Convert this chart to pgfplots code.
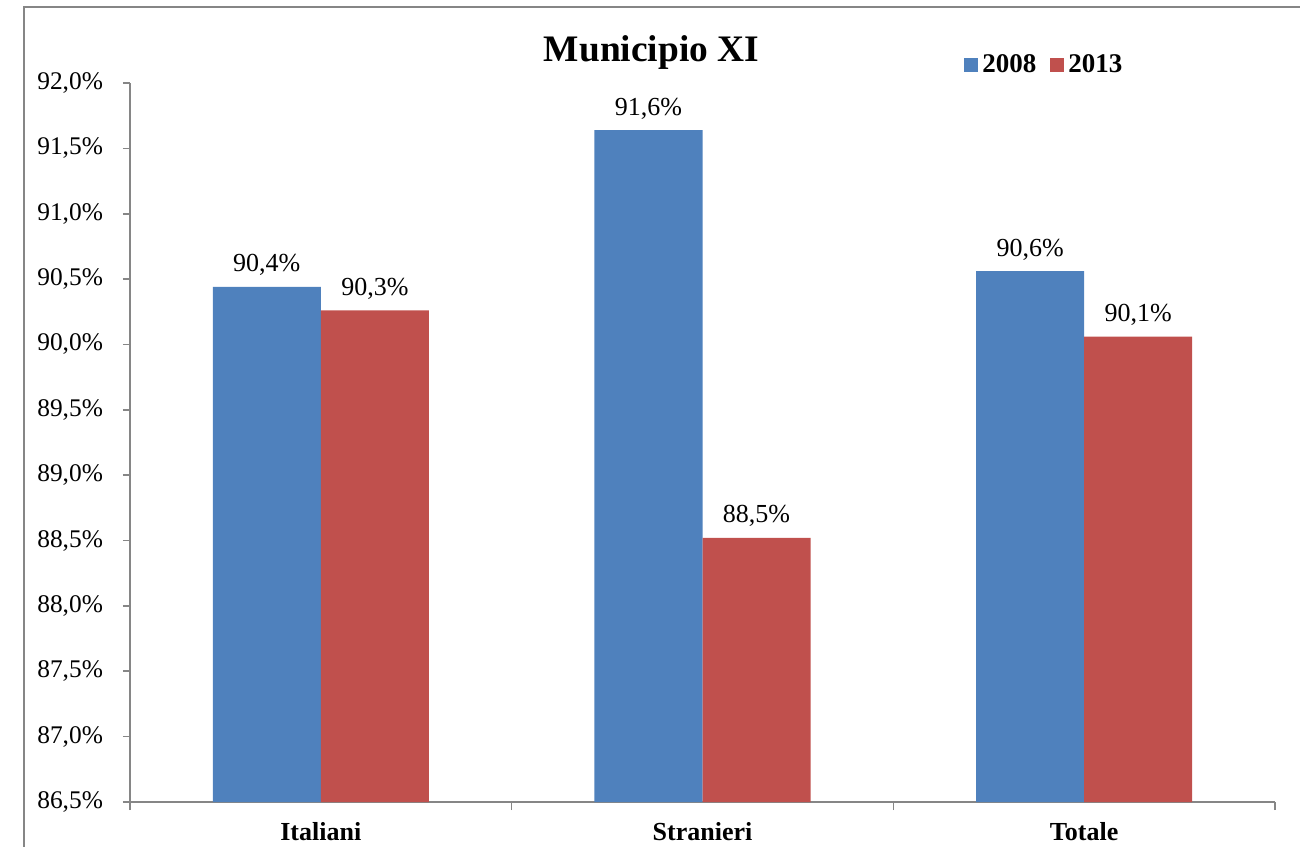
\documentclass[border=0pt]{standalone}
\usepackage{pgfplots}
\pgfplotsset{compat=1.18}
\usepackage{fontspec}
\setmainfont{Liberation Serif}
\definecolor{blu}{HTML}{4F81BD}
\definecolor{rosso}{HTML}{C0504D}
\definecolor{asse}{HTML}{868686}
\begin{document}
\begin{tikzpicture}
\useasboundingbox (0,0) rectangle (650pt,423pt);
% cornice del grafico
\draw[asse, line width=1pt] (12pt,-2pt) -- (12pt,419.5pt) -- (652pt,419.5pt);
\node[anchor=base, font=\fontsize{18.7}{22}\selectfont\bfseries] at (325.75pt,392pt) {Municipio XI};
\begin{axis}[
    at={(65pt,22pt)}, anchor=south west,
    scale only axis, width=572.5pt, height=359.5pt,
    ybar=0pt, bar width=0.283,
    xmin=-0.5, xmax=2.5, ymin=86.5, ymax=92,
    axis x line*=bottom, axis y line*=left,
    axis line style={asse, line width=0.8pt},
    tick style={asse, line width=0.8pt},
    tick align=outside,
    major tick length=3.5pt, minor tick length=4pt,
    ytick={86.5,87,87.5,88,88.5,89,89.5,90,90.5,91,91.5,92},
    yticklabel={\pgfmathprintnumber[fixed,fixed zerofill,precision=1,use comma]{\tick}\%},
    /pgf/number format/assume math mode=true,
    yticklabel style={font=\fontsize{12.7}{15}\selectfont, anchor=east, xshift=-6.5pt},
    xtick={0,1,2},
    xticklabels={Italiani,Stranieri,Totale},
    major x tick style={draw=none},
    minor xtick={-0.5,0.5,1.5,2.5},
    xticklabel style={font=\fontsize{13}{15}\selectfont\bfseries, anchor=base, yshift=-15.5pt},
    nodes near coords={\pgfmathprintnumber[fixed,precision=1,use comma]{\pgfplotspointmeta}\%},
    nodes near coords style={font=\fontsize{13}{15}\selectfont, anchor=base, yshift=7.5pt},
    clip=false,
    legend columns=2,
    legend style={at={(0.7284,1.0250)}, anchor=west, draw=none, fill=none,
        font=\fontsize{13.5}{15}\selectfont\bfseries, inner xsep=0pt, inner ysep=0pt,
        /tikz/every even column/.append style={column sep=5pt}},
    sq/.style={legend image code/.code={\fill[##1] (0pt,-3.5pt) rectangle (7pt,3.5pt);}},
]
\addplot[fill=blu, draw=none, sq] coordinates {(0,90.44) (1,91.64) (2,90.56)};
\addlegendentry{2008}
\addplot[fill=rosso, draw=none, sq] coordinates {(0,90.26) (1,88.52) (2,90.06)};
\addlegendentry{2013}
\end{axis}
\end{tikzpicture}
\end{document}
